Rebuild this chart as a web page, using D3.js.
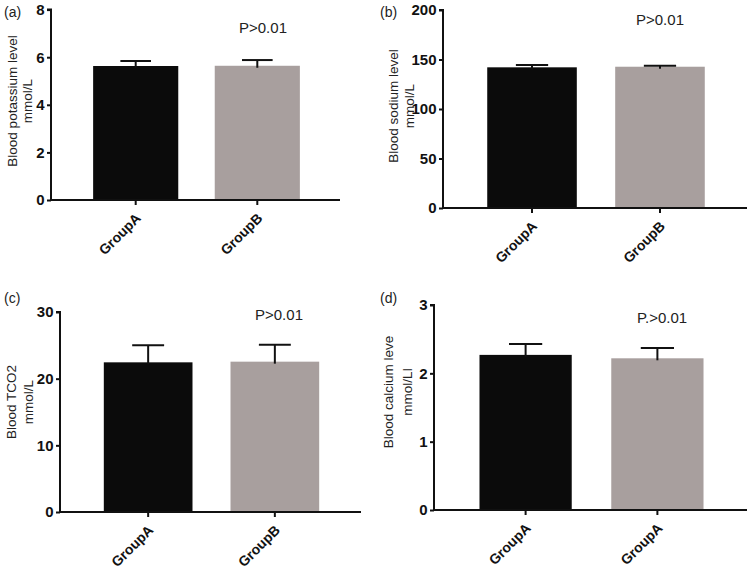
<!DOCTYPE html>
<html lang="en">
<head>
<meta charset="UTF-8">
<title>Blood electrolytes GroupA vs GroupB</title>
<style>
  body { margin: 0; background: #fff; font-family: "Liberation Sans", Arial, sans-serif; }
  svg { display: block; }
</style>
</head>
<body>
<svg id="chart" width="750" height="572"></svg>
<script src="https://cdn.jsdelivr.net/npm/d3@7"></script>
<script>
// data
const panelTags = ["(a)", "(b)", "(c)", "(d)"];
const yTitles = [
  ["Blood potassium level", "mmol/L"],
  ["Blood sodium level", "mmol/L"],
  ["Blood TCO2", "mmol/L"],
  ["Blood calcium leve", "mmol/Ll"]
];
const categories = [
  ["GroupA", "GroupB"],
  ["GroupA", "GroupB"],
  ["GroupA", "GroupB"],
  ["GroupA", "GroupA"]
];
const means = [[5.63, 5.64], [142.1, 142.7], [22.45, 22.55], [2.27, 2.22]];
const errors = [[0.21, 0.24], [2.3, 1.0], [2.55, 2.55], [0.16, 0.15]];
const yMax = [8, 200, 30, 3];
const yTicks = [[0, 2, 4, 6, 8], [0, 50, 100, 150, 200], [0, 10, 20, 30], [0, 1, 2, 3]];
const pLabels = ["P>0.01", "P>0.01", "P>0.01", "P.>0.01"];
const barColors = ["#0b0b0b", "#a89f9e"];

// plot boxes (left, right, top, bottom) and text spots for each panel
const boxes = [
  { x0: 51, x1: 340, y0: 9.6, y1: 200, tagX: 4, tagY: 17, pX: 263, pY: 33, t1: 17, t2: 32, tY: 101 },
  { x0: 443, x1: 747, y0: 10, y1: 208, tagX: 380, tagY: 17, pX: 660, pY: 25, t1: 398, t2: 414, tY: 106 },
  { x0: 60, x1: 361, y0: 312, y1: 512, tagX: 4, tagY: 303, pX: 279, pY: 320, t1: 16, t2: 33, tY: 402 },
  { x0: 434, x1: 747, y0: 305, y1: 510, tagX: 380, tagY: 303, pX: 662, pY: 323, t1: 393, t2: 412, tY: 392 }
];

const svg = d3.select("#chart");

boxes.forEach((b, i) => {
  const g = svg.append("g");

  const x = d3.scaleBand()
    .domain(d3.range(categories[i].length))
    .range([b.x0 + 2, b.x1])
    .paddingInner(0.3)
    .paddingOuter(0.33);

  const y = d3.scaleLinear().domain([0, yMax[i]]).range([b.y1, b.y0]);

  // bars
  g.selectAll("rect.bar")
    .data(means[i])
    .enter()
    .append("rect")
    .attr("class", "bar")
    .attr("x", (d, j) => x(j))
    .attr("width", x.bandwidth())
    .attr("y", d => y(d))
    .attr("height", d => y(0) - y(d))
    .attr("fill", (d, j) => barColors[j]);

  // error bars (upper only)
  const capW = x.bandwidth() * 0.36;
  means[i].forEach((m, j) => {
    const cx = x(j) + x.bandwidth() / 2;
    g.append("line")
      .attr("x1", cx).attr("x2", cx)
      .attr("y1", y(m) + 2).attr("y2", y(m + errors[i][j]))
      .attr("stroke", "#111").attr("stroke-width", 2);
    g.append("line")
      .attr("x1", cx - capW / 2).attr("x2", cx + capW / 2)
      .attr("y1", y(m + errors[i][j])).attr("y2", y(m + errors[i][j]))
      .attr("stroke", "#111").attr("stroke-width", 2);
  });

  // y axis
  const yAxis = g.append("g")
    .attr("transform", `translate(${b.x0},0)`)
    .call(d3.axisLeft(y).tickValues(yTicks[i]).tickFormat(d3.format("d")).tickSize(4).tickPadding(2.5));
  yAxis.attr("font-family", null).attr("font-size", null);
  yAxis.select(".domain").attr("stroke", "#111").attr("stroke-width", 2)
    .attr("d", `M-4,${b.y0}H0V${b.y1}`);
  yAxis.selectAll(".tick line").attr("stroke", "#111").attr("stroke-width", 2);
  yAxis.selectAll(".tick text")
    .attr("font-size", 15).attr("font-weight", "bold").attr("fill", "#111");

  // x axis
  const xAxis = g.append("g")
    .attr("transform", `translate(0,${b.y1})`)
    .call(d3.axisBottom(x).tickSize(5).tickFormat(j => categories[i][j]));
  xAxis.attr("font-family", null).attr("font-size", null);
  xAxis.select(".domain").attr("stroke", "#111").attr("stroke-width", 2)
    .attr("d", `M${b.x0},0H${b.x1}`);
  xAxis.selectAll(".tick line").attr("stroke", "#111").attr("stroke-width", 2);
  xAxis.selectAll(".tick text")
    .attr("font-size", 14).attr("font-weight", "bold").attr("fill", "#111")
    .attr("text-anchor", "end")
    .attr("dy", null)
    .attr("y", 0)
    .attr("transform", "translate(6,19) rotate(-45)");

  // y title, two lines
  [0, 1].forEach(k => {
    g.append("text")
      .attr("transform", `translate(${k === 0 ? b.t1 : b.t2},${b.tY}) rotate(-90)`)
      .attr("text-anchor", "middle")
      .attr("font-size", 13.5)
      .attr("fill", "#222")
      .text(yTitles[i][k]);
  });

  // panel tag and p value
  svg.append("text").attr("x", b.tagX).attr("y", b.tagY)
    .attr("font-size", 14).attr("fill", "#222").text(panelTags[i]);
  svg.append("text").attr("x", b.pX).attr("y", b.pY)
    .attr("text-anchor", "middle").attr("font-size", 15).attr("fill", "#222")
    .text(pLabels[i]);
});
</script>
</body>
</html>
